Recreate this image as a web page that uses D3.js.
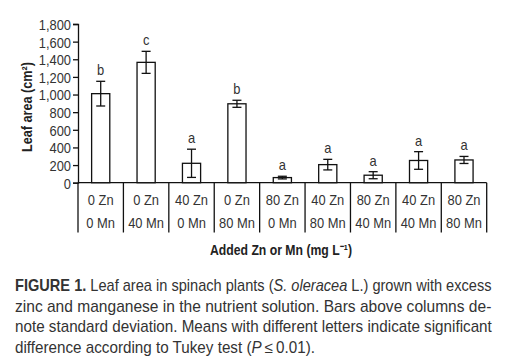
<!DOCTYPE html>
<html>
<head>
	<meta charset="utf-8">
	<style>
		body { margin: 0; padding: 0; background: #fff; }
		svg { display: block; font-family: 'Liberation Sans', Arial, sans-serif; }
		.axis text { font-size: 15px; fill: #333; font-family: inherit; }
		.axis path, .axis line { stroke: #111; stroke-width: 1.3; }
		rect.bar { fill: #fff; stroke: #111; stroke-width: 1.3; }
		.err { stroke: #111; stroke-width: 1.3; }
		.cap { font-size: 16px; fill: #333; }
	</style>
	<script src="https://cdnjs.cloudflare.com/ajax/libs/d3/7.8.5/d3.min.js"></script>
</head>
<body>
	<svg width="525" height="364"></svg>
</body>
<script>
	const zn = ['0 Zn', '0 Zn', '40 Zn', '0 Zn', '80 Zn', '40 Zn', '80 Zn', '40 Zn', '80 Zn'];
	const mn = ['0 Mn', '40 Mn', '0 Mn', '80 Mn', '0 Mn', '80 Mn', '40 Mn', '40 Mn', '80 Mn'];
	const leafArea = [1010, 1365, 220, 895, 58, 205, 85, 252, 258];
	const sd = [140, 125, 160, 40, 15, 60, 40, 100, 40];
	const letters = ['b', 'c', 'a', 'b', 'a', 'a', 'a', 'a', 'a'];
	const yTicks = [0, 200, 400, 600, 800, 1000, 1200, 1400, 1600, 1800];

	const caption = [
		[['b', 'FIGURE 1.'], ['n', ' Leaf area in spinach plants ('], ['i', 'S. oleracea'], ['n', ' L.) grown with excess']],
		[['n', 'zinc and manganese in the nutrient solution. Bars above columns de-']],
		[['n', 'note standard deviation. Means with different letters indicate significant']],
		[['n', 'difference according to Tukey test ('], ['i', 'P'], ['n', '\u2009\u2264\u20090.01).']]
	];

	const svg = d3.select('svg');
	const plotL = 78, plotR = 486.7, plotT = 24, base = 182.7;
	const idx = d3.range(zn.length);
	const NARROW = 0.86; // the original type is a condensed face

	function squeeze(sel, k) {
		sel.each(function () {
			const w = this.getComputedTextLength();
			d3.select(this).attr('textLength', w * k).attr('lengthAdjust', 'spacingAndGlyphs');
		});
	}

	const y = d3.scaleLinear().domain([0, 1800]).range([base, plotT]);
	const x = d3.scaleBand().domain(idx).range([plotL, plotR]).paddingInner(0.6).paddingOuter(0.3);
	const cell = d3.scaleBand().domain(idx).range([plotL, plotR]);

	// y axis
	svg.append('g').attr('class', 'axis')
		.attr('transform', `translate(${plotL},0)`)
		.call(d3.axisLeft(y).tickValues(yTicks).tickFormat(d3.format(',')).tickSize(5).tickPadding(2))
		.call(g => g.selectAll('text').attr('dy', '0.36em').call(squeeze, NARROW));

	// x axis line and category cells
	svg.append('line').attr('class', 'err')
		.attr('x1', plotL).attr('x2', plotR).attr('y1', base).attr('y2', base);
	svg.selectAll('line.div').data(idx.concat([zn.length])).enter().append('line')
		.attr('class', 'err div')
		.attr('x1', d => d < zn.length ? cell(d) : plotR)
		.attr('x2', d => d < zn.length ? cell(d) : plotR)
		.attr('y1', base).attr('y2', 232.5);
	svg.selectAll('text.zn').data(zn).enter().append('text')
		.attr('class', 'zn')
		.attr('x', (d, i) => cell(i) + cell.bandwidth() / 2)
		.attr('y', 204.5)
		.attr('text-anchor', 'middle')
		.style('font-size', '15px').style('fill', '#333')
		.text(d => d)
		.call(squeeze, NARROW);
	svg.selectAll('text.mn').data(mn).enter().append('text')
		.attr('class', 'mn')
		.attr('x', (d, i) => cell(i) + cell.bandwidth() / 2)
		.attr('y', 227.5)
		.attr('text-anchor', 'middle')
		.style('font-size', '15px').style('fill', '#333')
		.text(d => d)
		.call(squeeze, NARROW);

	// bars
	svg.selectAll('rect.bar').data(leafArea).enter().append('rect')
		.attr('class', 'bar')
		.attr('x', (d, i) => x(i))
		.attr('width', x.bandwidth())
		.attr('y', d => y(d))
		.attr('height', d => base - y(d));

	// error bars
	const eb = svg.selectAll('g.eb').data(leafArea).enter().append('g').attr('class', 'eb');
	const cx = i => x(i) + x.bandwidth() / 2;
	eb.append('line').attr('class', 'err')
		.attr('x1', (d, i) => cx(i)).attr('x2', (d, i) => cx(i))
		.attr('y1', (d, i) => y(d + sd[i])).attr('y2', (d, i) => y(d - sd[i]));
	eb.append('line').attr('class', 'err')
		.attr('x1', (d, i) => cx(i) - 4.5).attr('x2', (d, i) => cx(i) + 4.5)
		.attr('y1', (d, i) => y(d + sd[i])).attr('y2', (d, i) => y(d + sd[i]));
	eb.append('line').attr('class', 'err')
		.attr('x1', (d, i) => cx(i) - 4.5).attr('x2', (d, i) => cx(i) + 4.5)
		.attr('y1', (d, i) => y(d - sd[i])).attr('y2', (d, i) => y(d - sd[i]));
	eb.append('text')
		.attr('x', (d, i) => cx(i))
		.attr('y', (d, i) => y(d + sd[i]) - 6)
		.attr('text-anchor', 'middle')
		.style('font-size', '15px').style('fill', '#333')
		.text((d, i) => letters[i])
		.call(squeeze, NARROW);

	// axis titles
	svg.append('text')
		.attr('transform', 'translate(32,107) rotate(-90)')
		.attr('text-anchor', 'middle')
		.attr('textLength', 90).attr('lengthAdjust', 'spacingAndGlyphs')
		.style('font-size', '14.5px').style('font-weight', 'bold').style('fill', '#222')
		.text('Leaf area (cm\u00b2)');
	svg.append('text')
		.attr('x', 281).attr('y', 255)
		.attr('text-anchor', 'middle')
		.attr('textLength', 142).attr('lengthAdjust', 'spacingAndGlyphs')
		.style('font-size', '14.5px').style('font-weight', 'bold').style('fill', '#222')
		.text('Added Zn or Mn (mg L\u207b\u00b9)');

	// caption: each line scaled horizontally to the width it has in the print
	const capX = 15, capW = [477, 477, 477, 300];
	caption.forEach((parts, li) => {
		const t = svg.append('text').attr('class', 'cap').attr('x', 0).attr('y', 0);
		parts.forEach(([k, s]) => {
			const ts = t.append('tspan').text(s);
			if (k === 'b') ts.style('font-weight', 'bold');
			if (k === 'i') ts.style('font-style', 'italic');
		});
		const k = capW[li] / t.node().getComputedTextLength();
		t.attr('transform', `translate(${capX},${291 + li * 20.7}) scale(${k},1)`);
	});
</script>
</html>
